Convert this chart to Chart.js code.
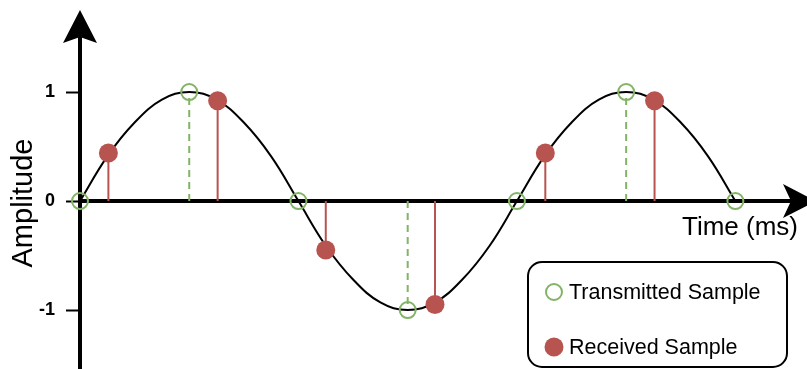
<!DOCTYPE html>
<html>
<head>
<meta charset="utf-8">
<script src="https://cdn.jsdelivr.net/npm/chart.js@4"></script>
<style>
  html, body { margin: 0; padding: 0; background: #ffffff; }
  #wrap { width: 807px; height: 369px; position: relative; }
</style>
</head>
<body>
<div id="wrap"><canvas id="c" width="807" height="369"></canvas></div>
<script>
// ---- data ----
const curveTimes  = [0, 0.25, 0.5, 0.75, 1, 1.25, 1.5, 1.75, 2, 2.25, 2.5, 2.75, 3, 3.25, 3.5, 3.75, 4, 4.25, 4.5, 4.75, 5, 5.25, 5.5, 5.75, 6];
const curveValues = [0, 0.41, 0.72, 0.93, 1, 0.93, 0.72, 0.41, 0, -0.41, -0.72, -0.93, -1, -0.93, -0.72, -0.41, 0, 0.41, 0.72, 0.93, 1, 0.93, 0.72, 0.41, 0];
const transmittedTimes  = [0, 1, 2, 3, 4, 5, 6];
const transmittedValues = [0, 1, 0, -1, 0, 1, 0];
const receivedTimes  = [0.26, 1.26, 2.25, 3.25, 4.26, 5.26];
const receivedValues = [0.44, 0.92, -0.45, -0.95, 0.44, 0.92];
const yTickValues = [-1, 0, 1];
const xTitle = 'Time (ms)';
const yTitle = 'Amplitude';
const transmittedLabel = 'Transmitted Sample';
const receivedLabel = 'Received Sample';

const GREEN = '#82b366';
const RED = '#b85450';
const FONT = '"Liberation Sans", Arial, Helvetica, sans-serif';

function points(xs, ys) { return xs.map((x, i) => ({ x: x, y: ys[i] })); }
function stems(xs, ys) {
  const out = [];
  xs.forEach((x, i) => { out.push({ x: x, y: 0 }, { x: x, y: ys[i] }, { x: x, y: null }); });
  return out;
}
function noPadding(scale) {
  scale.paddingTop = 0; scale.paddingBottom = 0; scale.paddingLeft = 0; scale.paddingRight = 0;
}

const decorations = {
  id: 'decorations',
  afterDraw(chart) {
    const ctx = chart.ctx;
    const a = chart.chartArea;
    const y0 = chart.scales.y.getPixelForValue(0);
    ctx.save();
    ctx.fillStyle = '#000';
    // y arrow head
    ctx.beginPath();
    ctx.moveTo(a.left, a.top - 27);
    ctx.lineTo(a.left + 17, a.top + 6);
    ctx.lineTo(a.left, a.top);
    ctx.lineTo(a.left - 17, a.top + 6);
    ctx.closePath();
    ctx.fill();
    // x arrow head
    ctx.beginPath();
    ctx.moveTo(a.right + 26, y0);
    ctx.lineTo(a.right - 7, y0 - 17);
    ctx.lineTo(a.right + 1, y0);
    ctx.lineTo(a.right - 7, y0 + 17);
    ctx.closePath();
    ctx.fill();
    // x title
    ctx.font = '26px ' + FONT;
    ctx.textAlign = 'left';
    ctx.textBaseline = 'alphabetic';
    ctx.fillText(xTitle, 682, y0 + 34);
    // legend box
    const bx = 528, by = 262, bw = 259, bh = 105, r = 14;
    ctx.beginPath();
    ctx.moveTo(bx + r, by);
    ctx.lineTo(bx + bw - r, by);
    ctx.arcTo(bx + bw, by, bx + bw, by + r, r);
    ctx.lineTo(bx + bw, by + bh - r);
    ctx.arcTo(bx + bw, by + bh, bx + bw - r, by + bh, r);
    ctx.lineTo(bx + r, by + bh);
    ctx.arcTo(bx, by + bh, bx, by + bh - r, r);
    ctx.lineTo(bx, by + r);
    ctx.arcTo(bx, by, bx + r, by, r);
    ctx.closePath();
    ctx.lineWidth = 2;
    ctx.strokeStyle = '#000';
    ctx.stroke();
    // legend items
    ctx.beginPath();
    ctx.arc(554, 292, 8, 0, Math.PI * 2);
    ctx.strokeStyle = GREEN;
    ctx.lineWidth = 2;
    ctx.stroke();
    ctx.beginPath();
    ctx.arc(554, 347, 9.5, 0, Math.PI * 2);
    ctx.fillStyle = RED;
    ctx.fill();
    ctx.fillStyle = '#000';
    ctx.font = '21.5px ' + FONT;
    ctx.fillText(chart.data.datasets[1].label, 569, 299);
    ctx.fillText(chart.data.datasets[0].label, 569, 354);
    ctx.restore();
  }
};

new Chart(document.getElementById('c'), {
  type: 'line',
  data: {
    datasets: [
      { label: receivedLabel, data: points(receivedTimes, receivedValues), showLine: false,
        pointRadius: 9.5, pointBackgroundColor: RED, pointBorderColor: RED, pointBorderWidth: 0, clip: false },
      { label: transmittedLabel, data: points(transmittedTimes, transmittedValues), showLine: false,
        pointRadius: 8, pointBackgroundColor: 'rgba(0,0,0,0)', pointBorderColor: GREEN, pointBorderWidth: 2, clip: false },
      { label: 'curve', data: points(curveTimes, curveValues), borderColor: '#000', borderWidth: 2,
        pointRadius: 0, tension: 0.4, fill: false, clip: false },
      { label: 'received stems', data: stems(receivedTimes, receivedValues), borderColor: RED, borderWidth: 2,
        pointRadius: 0, spanGaps: false, tension: 0, clip: false },
      { label: 'transmitted stems', data: stems(transmittedTimes, transmittedValues), borderColor: GREEN, borderWidth: 2,
        borderDash: [7, 5], pointRadius: 0, spanGaps: false, tension: 0, clip: false }
    ]
  },
  options: {
    responsive: false,
    animation: false,
    events: [],
    layout: { autoPadding: false, padding: { top: 37, right: 17, bottom: 0, left: 0 } },
    plugins: { legend: { display: false }, tooltip: { enabled: false }, title: { display: false } },
    scales: {
      x: {
        type: 'linear',
        position: { y: 0 },
        min: 0, max: 6.5,
        afterFit(scale) { scale.height = 0; noPadding(scale); },
        grid: { display: false },
        ticks: { display: false },
        border: { display: true, color: '#000', width: 4 }
      },
      y: {
        type: 'linear',
        position: 'left',
        min: -1.541, max: 1.505,
        afterBuildTicks(scale) { scale.ticks = yTickValues.map(v => ({ value: v })); },
        afterFit(scale) { scale.width = 80; noPadding(scale); },
        grid: { display: true, drawOnChartArea: false, drawTicks: true, tickLength: 14, tickWidth: 2, tickColor: '#000', color: '#000' },
        border: { display: true, color: '#000', width: 4 },
        ticks: { color: '#000', padding: 11, font: { family: FONT, size: 18, weight: 'bold' } },
        title: { display: true, text: yTitle, color: '#000', padding: { top: 7, bottom: 0 }, font: { family: FONT, size: 29 } }
      }
    }
  },
  plugins: [decorations]
});
</script>
</body>
</html>
